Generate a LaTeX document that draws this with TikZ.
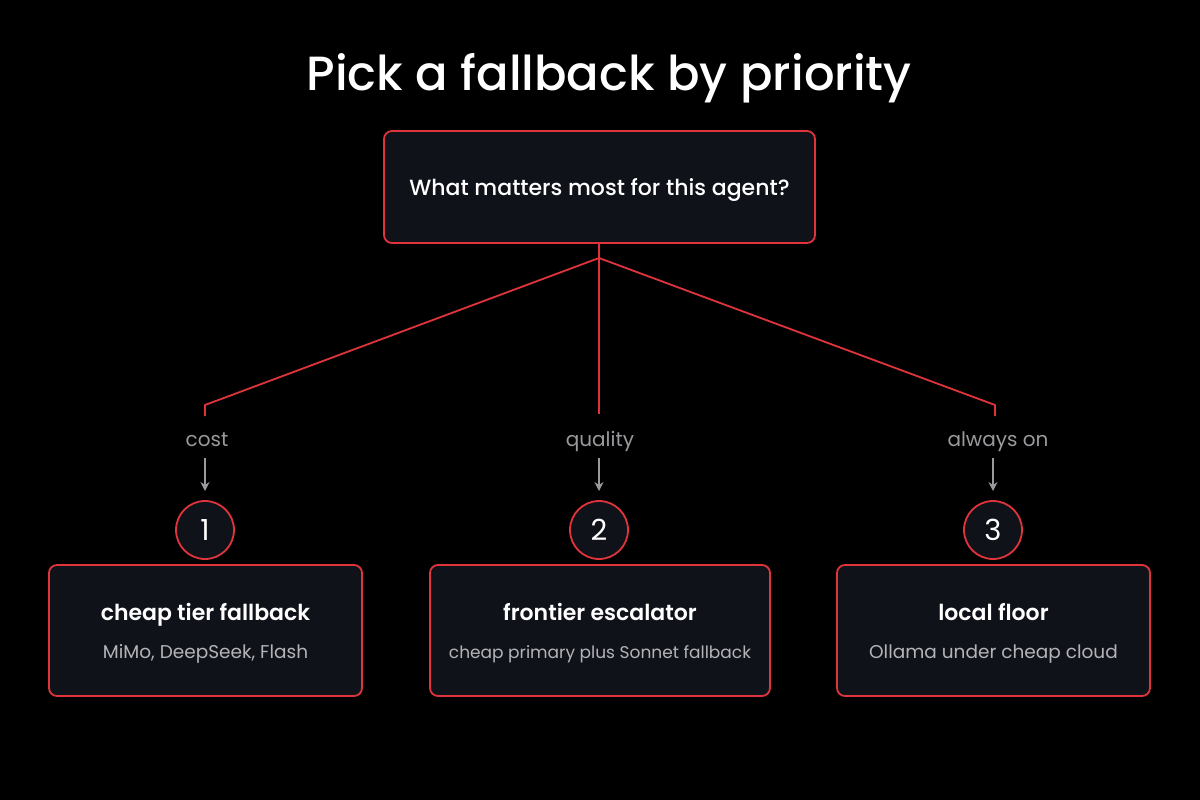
\documentclass[tikz,border=0pt]{standalone}
\usepackage{fontspec}
\setmainfont{Poppins}[BoldFont={Poppins SemiBold}]
\newfontfamily\medfont{Poppins Medium}
\usetikzlibrary{arrows.meta}
\definecolor{bg}{HTML}{000000}
\definecolor{rd}{HTML}{E0343C}
\definecolor{boxf}{HTML}{10121A}
\definecolor{gr}{HTML}{9A9A9E}
\definecolor{lg}{HTML}{B4B4B8}
\tikzset{
 card/.style={draw=rd,line width=1.8pt,fill=boxf,rounded corners=8pt},
 num/.style={circle,draw=rd,line width=1.8pt,fill=boxf,minimum size=58pt,inner sep=0pt,text=white,font=\fontsize{29}{32}\selectfont},
 lab/.style={text=gr,font=\fontsize{20}{23}\selectfont,anchor=base},
 ttl/.style={text=white,font=\fontsize{22}{25}\selectfont\bfseries,anchor=base},
 sub/.style={text=lg,font=\fontsize{18.5}{22}\selectfont,anchor=base},
 conn/.style={draw=rd,line width=1.8pt},
 garr/.style={draw=gr,line width=1.4pt,-{Stealth[length=9pt,width=9pt]}}
}
\begin{document}
\begin{tikzpicture}[x=1pt,y=-1pt]
\fill[bg] (0,0) rectangle (1200,800);
\useasboundingbox (0,0) rectangle (1200,800);
\node[text=white,font=\fontsize{48}{54}\selectfont\medfont,anchor=base] (title) at (609,91) {Pick a fallback by priority};
\draw[card] (384,131) rectangle (815,243);
\node[text=white,font=\fontsize{22}{25}\selectfont\medfont,anchor=base] (q) at (599.5,195) {What matters most for this agent?};
\coordinate (qb) at (599,243);
\coordinate (hub) at (599,258);
\coordinate (l1) at (205,405); \coordinate (l2) at (205,416);
\coordinate (m2) at (599,414);
\coordinate (r1) at (995,405); \coordinate (r2) at (995,416);
\draw[conn] (qb) -- (hub);
\draw[conn] (hub) -- (l1) -- (l2);
\draw[conn] (hub) -- (m2);
\draw[conn] (hub) -- (r1) -- (r2);
\node[lab] (c) at (207,446) {cost};
\node[lab] (qq) at (600,446) {quality};
\node[lab] (a) at (998,446) {always on};
\node[num] (n1) at (205,530) {1};
\node[num] (n2) at (599,530) {2};
\node[num] (n3) at (993,530) {3};
\draw[garr] (205,458) -- (205,491);
\draw[garr] (599,458) -- (599,491);
\draw[garr] (993,458) -- (993,491);
\draw[card] (49,565) rectangle (362,696);
\draw[card] (430,565) rectangle (770,696);
\draw[card] (837,565) rectangle (1150,696);
\node[ttl] (t1) at (205.5,620) {cheap tier fallback};
\node[sub] (s1) at (205.5,658) {MiMo, DeepSeek, Flash};
\node[ttl] (t2) at (600,620) {frontier escalator};
\node[sub,font=\fontsize{17}{20}\selectfont] (s2) at (600,658) {cheap primary plus Sonnet fallback};
\node[ttl] (t3) at (993.5,620) {local floor};
\node[sub] (s3) at (993.5,658) {Ollama under cheap cloud};
\end{tikzpicture}
\end{document}
